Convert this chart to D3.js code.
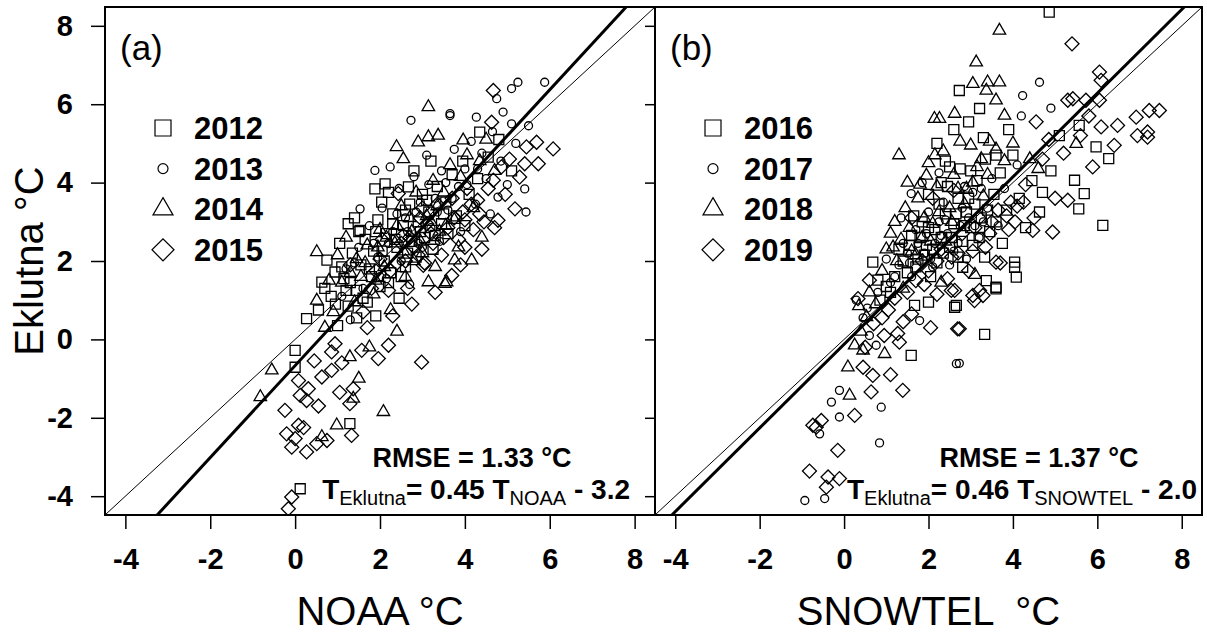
<!DOCTYPE html>
<html>
<head>
<meta charset="utf-8">
<script src="https://cdn.jsdelivr.net/npm/d3@7"></script>
<style>
  body { margin: 0; background: #fff; }
  svg { display: block; font-family: "Liberation Sans", Arial, sans-serif; }
  text { white-space: pre; }
</style>
</head>
<body>
<svg width="1207" height="633"></svg>
<script>
const svg = d3.select("svg");

const width = 1207;
const height = 633;

// axis values
const axisDomain = [-4.48, 8.48];
const tickValues = [-4, -2, 0, 2, 4, 6, 8];

const yearsA = ["2012", "2013", "2014", "2015"];
const yearsB = ["2016", "2017", "2018", "2019"];
const shapes = ["square", "circle", "triangle", "diamond"];

// panel (a): Eklutna vs NOAA
const a2012 = [[0.63,1.46],[0.27,0.53],[0.0,-0.28],[0.0,-0.71],[1.29,-2.15],[0.12,-3.81],[1.88,3.84],[2.12,3.97],[2.67,3.89],[2.04,3.5],[1.25,2.95],[1.53,2.78],[0.75,2.02],[0.94,1.72],[4.35,5.29],
  [0.85,1.1],[1.05,2.45],[1.15,1.55],[1.25,0.85],[1.35,2.2],[1.45,1.25],[1.55,1.9],[1.65,2.55],[1.7,0.95],[1.8,1.6],[1.85,2.25],[1.95,3.05],[2.0,1.35],[2.1,2.0],[2.15,2.7],[2.25,1.7],[2.3,3.2],[2.4,2.35],[2.45,1.05],[2.55,2.9],[2.6,1.85],[2.7,3.45],[2.75,2.5],[2.85,2.1],[2.9,3.0],[3.0,3.7],[3.05,2.6],[3.15,3.25],[3.25,2.3],[3.35,3.9],[3.45,2.95],[3.55,3.5],[3.7,4.2],[3.8,3.15],[3.95,4.55],[4.1,3.7],[4.3,4.1],[4.55,4.65],[1.0,0.35],[1.9,0.6],[2.2,3.75],[2.8,4.3],[3.2,4.55],[0.55,0.75],[1.4,3.1],[3.6,2.7],[4.0,2.9],[4.8,5.1],[5.1,4.3],[2.35,2.55],
  [1.1,1.85],[1.3,1.45],[1.5,2.75],[1.6,1.05],[1.75,1.8],[1.9,2.75],[2.05,2.25],[2.2,1.45],[2.3,2.95],[2.5,1.6],[2.6,3.3],[2.65,2.2],[2.95,2.75],[3.1,3.55],[3.3,2.65],[3.5,3.2],[0.95,0.9],[1.2,1.25],[0.7,1.3],[1.45,0.55]];
const a2013 = [[2.73,5.59],[3.65,5.76],[1.88,4.31],[2.24,4.4],[1.53,3.33],[4.75,6.14],[5.1,6.4],[5.25,6.56],[5.88,6.56],[3.65,5.71],[4.27,5.67],[5.1,5.5],[5.41,3.84],[4.78,3.63],[5.44,3.25],
  [1.2,1.8],[1.5,2.35],[1.75,2.9],[1.95,2.1],[2.05,3.35],[2.3,2.75],[2.45,3.85],[2.6,3.1],[2.8,4.15],[2.95,3.5],[3.1,4.7],[3.2,2.85],[3.3,3.6],[3.45,4.3],[3.6,3.3],[3.75,4.85],[3.85,3.9],[4.0,4.35],[4.15,5.05],[4.25,3.45],[4.4,4.75],[4.5,4.1],[4.65,5.3],[4.85,4.55],[5.0,3.95],[5.2,5.0],[2.5,2.0],[2.9,2.45],[1.6,1.3],[1.3,0.5],[3.4,2.5],[3.9,2.75],[4.6,3.2],[2.15,1.55],[2.7,1.4],[4.9,5.8],[5.5,5.45],
  [1.4,1.95],[1.85,2.45],[2.2,2.45],[2.4,3.2],[2.65,2.75],[2.85,3.25],[3.0,2.35],[3.15,3.95],[3.35,3.25],[3.55,4.0],[3.7,3.6],[4.05,3.95],[4.3,4.35],[2.0,1.6],[1.1,1.1]];
const a2014 = [[3.14,5.93],[2.39,4.91],[2.9,5.03],[3.37,5.2],[3.14,5.16],[0.51,2.23],[3.14,1.46],[3.57,1.46],[0.51,0.99],[-0.55,-0.79],[0.63,-2.49],[0.98,-2.19],[2.08,-1.85],[1.29,-0.45],[1.37,-1.51],[3.76,2.02],[4.16,2.02],[3.96,5.08],[3.53,1.42],[-0.82,-1.47],[1.5,-1.0],
  [0.9,0.7],[1.1,1.45],[1.2,2.6],[1.4,0.95],[1.55,1.6],[1.7,2.4],[1.85,1.15],[2.0,2.8],[2.1,1.85],[2.25,0.75],[2.35,2.45],[2.5,3.4],[2.6,1.6],[2.75,2.75],[2.85,3.75],[3.0,2.2],[3.1,3.15],[3.25,4.05],[3.4,2.75],[3.5,3.75],[3.65,4.45],[3.75,3.05],[3.9,4.15],[4.05,4.7],[4.2,3.35],[4.35,4.55],[4.5,5.1],[4.7,4.3],[2.55,4.6],[1.0,2.15],[0.7,0.3],[1.75,-0.2],[2.4,0.2],[3.3,1.85],[3.85,2.35],[4.4,2.6],
  [1.3,1.7],[1.65,1.95],[1.95,2.35],[2.15,2.6],[2.4,2.9],[2.55,2.25],[2.7,3.1],[2.95,2.5],[3.2,3.0],[3.35,3.4],[3.55,2.9],[1.45,2.05],[1.9,1.5],[2.8,2.0],[0.8,1.5]];
const a2015 = [[0.08,-1.05],[0.31,-1.26],[0.12,-1.43],[0.27,-1.56],[-0.24,-1.81],[0.08,-2.19],[-0.2,-2.41],[0.0,-2.53],[-0.08,-2.75],[0.27,-2.87],[0.51,-2.66],[0.75,-2.58],[1.33,-2.45],[2.98,-0.58],[0.63,-0.96],[0.86,-0.79],[1.37,-1.26],[1.29,-1.64],[0.94,-0.11],[0.86,-0.32],[1.57,-0.28],[2.2,-0.15],[1.96,-0.49],[-0.08,-4.02],[-0.16,-4.32],[0.45,-0.55],[1.1,-0.6],[0.55,-1.7],[0.2,-2.25],[1.05,-1.35],
  [2.43,3.72],[3.02,1.89],[4.67,6.35],[4.63,5.54],[5.45,4.91],[5.69,5.03],[6.08,4.86],[5.41,4.48],[5.73,4.48],[5.29,4.14],[5.18,3.33],[4.67,4.06],[4.86,4.4],[4.78,3.04],[4.0,2.35],[3.69,1.63],
  [1.3,1.9],[1.6,0.7],[1.9,1.75],[2.05,2.55],[2.2,1.25],[2.4,1.95],[2.55,2.65],[2.65,1.3],[2.8,2.35],[2.95,3.1],[3.05,1.95],[3.2,2.7],[3.35,3.45],[3.45,2.15],[3.6,2.85],[3.7,3.6],[3.85,2.55],[3.95,3.25],[4.05,3.85],[4.2,2.8],[4.3,3.55],[4.45,3.0],[4.55,3.85],[4.7,2.85],[4.95,3.7],[5.05,4.6],[1.7,0.3],[2.3,0.6],[2.75,0.9],[3.3,1.2],[3.9,1.9],[4.4,2.3],
  [2.25,1.75],[2.5,2.45],[2.7,2.6],[2.9,2.15],[3.1,2.95],[3.25,2.45],[3.5,2.6],[3.75,3.1],[4.0,3.05],[4.15,3.45],[4.35,3.2],[3.0,3.35],[2.6,2.0],[1.8,1.3],[2.0,2.05]];

// panel (b): Eklutna vs SNOWTEL
const b2016 = [[4.86,8.35],[2.73,6.35],[3.21,5.89],[5.57,5.46],[5.97,4.91],[6.27,4.61],[5.46,4.06],[5.69,3.72],[5.56,3.33],[6.13,2.91],[4.63,3.25],[4.04,1.97],[4.04,1.84],[4.08,1.59],[3.6,1.33],[3.37,1.5],[2.66,0.87],[2.81,1.84],[3.33,2.1],[3.6,1.29],[3.33,0.13],[0.68,1.97],[0.8,1.51],[1.67,0.87],[2.62,0.82],[1.59,-0.41],
  [1.3,2.3],[1.5,1.7],[1.6,2.65],[1.75,2.05],[1.85,3.0],[1.95,2.4],[2.05,1.6],[2.15,2.8],[2.25,3.45],[2.35,2.2],[2.45,3.9],[2.55,2.6],[2.65,3.2],[2.75,4.35],[2.85,2.9],[2.95,3.6],[3.05,2.4],[3.15,4.05],[3.25,3.1],[3.35,4.6],[3.45,2.75],[3.55,3.7],[3.7,4.25],[3.85,3.3],[4.0,4.7],[4.15,3.6],[4.3,2.85],[4.45,4.05],[4.7,3.75],[4.9,4.3],[5.1,5.2],[2.2,5.0],[2.6,5.35],[2.95,5.55],[3.3,5.15],[3.9,5.35],[1.1,1.2],[2.0,0.95],[2.4,4.55],[3.75,2.45],
  [1.4,2.0],[1.55,2.4],[1.7,1.85],[1.8,2.6],[1.9,2.15],[2.0,2.85],[2.1,2.3],[2.2,1.95],[2.3,2.6],[2.4,3.2],[2.5,2.35],[2.6,2.95],[2.7,3.6],[2.8,2.5],[2.9,3.25],[3.0,2.85],[3.1,3.45],[3.2,2.6],[3.4,3.3],[3.6,3.0],[1.2,1.6],[1.0,1.35],[0.85,1.0],[2.3,4.0],[2.5,4.4],[3.0,4.3],[3.6,4.7],[2.0,3.7],[2.7,2.1],[1.65,3.15]];
const b2017 = [[4.63,6.56],[4.23,6.22],[1.59,3.72],[1.79,0.48],[2.73,-0.61],[2.66,-0.62],[0.76,-0.15],[-0.11,-1.3],[-0.3,-1.6],[-0.11,-1.98],[0.88,-1.73],[-0.58,-2.41],[0.84,-2.64],[-0.46,-4.06],[-0.93,-4.11],[0.29,1.0],
  [1.0,2.05],[1.2,1.6],[1.4,2.45],[1.55,1.95],[1.7,2.8],[1.9,2.2],[2.0,3.25],[2.1,1.85],[2.3,2.65],[2.4,3.05],[2.5,1.9],[2.7,2.45],[2.8,3.35],[2.9,2.05],[3.05,3.75],[3.2,2.6],[3.4,3.35],[3.5,4.1],[3.65,2.9],[3.8,3.85],[4.1,4.45],[1.35,3.1],[1.85,4.0],[2.25,4.25],[4.2,5.7],[4.9,5.9],[0.45,0.55],[0.6,0.1],
  [1.5,2.2],[1.75,2.45],[1.95,2.7],[2.15,2.45],[2.25,3.0],[2.45,2.7],[2.6,2.25],[2.75,2.9],[2.95,3.1],[3.1,2.9],[3.3,3.0],[1.3,1.9],[1.1,1.45],[0.8,1.2],[0.55,0.8],[2.35,3.5],[2.85,3.9],[3.25,3.85],[1.6,1.6],[2.05,2.05]];
const b2018 = [[3.68,7.88],[3.13,7.07],[3.05,6.52],[3.4,6.56],[3.68,6.56],[3.6,6.1],[3.37,6.35],[2.26,5.63],[2.62,5.76],[3.8,5.71],[5.5,4.99],[1.16,2.35],[0.53,0.57],[0.25,-0.15],[0.45,-0.28],[0.96,-0.37],[0.09,-0.71],[0.13,-1.43],[1.95,4.18],[2.14,5.63],
  [0.9,1.75],[1.1,2.7],[1.25,2.0],[1.45,3.35],[1.6,2.25],[1.75,3.6],[1.85,2.6],[2.0,4.5],[2.1,2.95],[2.2,3.9],[2.35,4.8],[2.5,3.35],[2.6,4.2],[2.75,5.05],[2.9,3.85],[3.0,4.95],[3.15,4.4],[3.3,3.65],[3.45,5.05],[3.6,4.85],[3.8,4.55],[4.0,5.0],[4.4,4.6],[4.6,4.35],[1.4,1.3],[2.3,1.45],[3.1,1.65],[0.75,0.9],[1.5,4.0],[1.3,4.7],
  [1.35,2.55],[1.55,2.85],[1.7,2.15],[1.9,3.1],[2.05,2.5],[2.25,3.25],[2.4,2.5],[2.55,3.0],[2.7,3.85],[2.85,3.45],[3.05,4.0],[3.25,4.6],[3.4,4.2],[1.2,3.0],[1.0,2.3],[0.6,1.2],[0.4,0.2],[0.35,0.85],[2.15,4.7],[1.8,3.95]];
const b2019 = [[5.4,7.54],[6.05,6.82],[6.09,6.61],[5.3,6.1],[5.42,6.14],[5.73,6.1],[6.05,6.1],[6.09,5.42],[6.48,5.46],[6.92,5.67],[7.23,5.84],[7.47,5.84],[6.95,5.2],[7.19,5.29],[7.19,5.16],[6.4,4.95],[5.89,4.4],[5.3,3.55],[4.94,2.74],[4.47,2.78],[3.21,1.25],[3.05,1.12],[2.54,1.25],[3.6,1.97],[3.09,0.99],[3.29,1.12],[2.73,0.27],[0.6,1.51],[0.33,1.04],[1.27,0.15],[2.62,1.25],[2.69,0.27],[1.31,-0.07],[0.45,-0.71],[0.68,-0.92],[1.39,-1.3],[0.64,-1.34],[0.25,-1.94],[-0.54,-2.07],[-0.66,-2.24],[-0.74,-2.19],[-0.15,-2.83],[-0.82,-3.36],[-0.38,-3.51],[-0.11,-3.55],[-0.42,-3.77],
  [1.9,1.4],[2.2,2.0],[2.45,1.55],[2.7,2.2],[2.95,1.75],[3.1,2.85],[3.35,2.35],[3.5,3.0],[3.7,1.95],[3.9,2.8],[4.1,3.4],[4.3,3.95],[4.5,3.1],[4.7,4.6],[4.85,5.1],[5.0,3.6],[5.2,4.75],[5.6,5.2],[1.4,0.45],[0.9,0.55],[1.1,-0.9],[2.05,0.3],[1.6,3.1],[2.1,3.6],[2.6,3.8],[1.2,1.05],[3.95,3.5],[4.55,5.55],[5.8,5.7],
  [1.7,1.5],[1.85,2.0],[2.0,1.75],[2.3,2.3],[2.55,2.1],[2.8,2.7],[3.05,2.25],[3.2,3.1],[3.45,2.7],[3.65,3.3],[3.85,3.15],[4.05,3.0],[4.25,3.5],[1.5,1.2],[1.05,0.75],[0.7,0.4],[0.5,-0.2],[0.95,0.1],[1.6,0.65],[2.2,1.15]];

// 1:1 line and fitted line (endpoints in data units)
const oneToOne = [[-4.48, -4.48], [8.48, 8.48]];
const fitLineA = [[-3.25, -4.48], [7.80, 8.48]];
const fitLineB = [[-4.08, -4.48], [8.06, 8.48]];

const panels = [
    { id: "a", left: 105, right: 655, label: "(a)", years: yearsA, series: [a2012, a2013, a2014, a2015],
      fit: fitLineA, xTitle: "NOAA \u00B0C", rmse: "RMSE = 1.33 \u00B0C", sub2: "NOAA", coef: "= 0.45 T", tail: " - 3.2",
      eqRight: 630, yLabels: true, yTick: 14 },
    { id: "b", left: 655, right: 1202, label: "(b)", years: yearsB, series: [b2016, b2017, b2018, b2019],
      fit: fitLineB, xTitle: "SNOWTEL  \u00B0C", rmse: "RMSE = 1.37 \u00B0C", sub2: "SNOWTEL", coef: "= 0.46 T", tail: " - 2.0",
      eqRight: 1197, yLabels: false, yTick: 10 }
];

const plotTop = 7, plotBottom = 515;

const yScale = d3.scaleLinear().domain(axisDomain).range([plotBottom, plotTop]);

function markerPath(shape, s) {
    if (shape === "square") return d3.symbol(d3.symbolSquare, s * s)();
    if (shape === "circle") return d3.symbol(d3.symbolCircle, Math.PI * s * s / 4)();
    if (shape === "triangle") return d3.symbol(d3.symbolTriangle, Math.sqrt(3) / 4 * s * s)();
    return d3.symbol(d3.symbolSquare, s * s / 2)();
}
const dataSize = { square: 10, circle: 8, triangle: 12.5, diamond: 14 };
const legendSize = { square: 16, circle: 10, triangle: 20, diamond: 22 };

panels.forEach(function(p) {
    const xScale = d3.scaleLinear().domain(axisDomain).range([p.left, p.right]);

    svg.append("clipPath").attr("id", "clip-" + p.id)
        .append("rect")
        .attr("x", p.left).attr("y", plotTop)
        .attr("width", p.right - p.left).attr("height", plotBottom - plotTop);

    const plot = svg.append("g").attr("clip-path", `url(#clip-${p.id})`);

    // points
    p.series.forEach(function(pts, i) {
        const shape = shapes[i];
        plot.selectAll(".pt" + i)
            .data(pts)
            .enter()
            .append("path")
            .attr("d", markerPath(shape, dataSize[shape]))
            .attr("transform", d => `translate(${xScale(d[0])},${yScale(d[1])})` + (shape === "diamond" ? " rotate(45)" : ""))
            .attr("fill", "none")
            .attr("stroke", "#000")
            .attr("stroke-width", 1.3);
    });

    const line = d3.line().x(d => xScale(d[0])).y(d => yScale(d[1]));

    plot.append("path").attr("d", line(oneToOne))
        .attr("stroke", "#000").attr("stroke-width", 1).attr("fill", "none");
    plot.append("path").attr("d", line(p.fit))
        .attr("stroke", "#000").attr("stroke-width", 3).attr("fill", "none");

    // frame
    svg.append("rect")
        .attr("x", p.left).attr("y", plotTop)
        .attr("width", p.right - p.left).attr("height", plotBottom - plotTop)
        .attr("fill", "none").attr("stroke", "#000").attr("stroke-width", 2);

    // x axis
    const xAxis = svg.append("g")
        .attr("transform", `translate(0,${plotBottom})`)
        .call(d3.axisBottom(xScale).tickValues(tickValues).tickFormat(d => String(d)).tickSize(14).tickPadding(19));
    xAxis.select(".domain").remove();
    xAxis.selectAll("line").attr("stroke", "#000").attr("stroke-width", 1.5);
    xAxis.selectAll("text")
        .attr("fill", "#000")
        .style("font-size", "29px")
        .style("font-weight", "bold")
        .style("font-family", "'Liberation Sans', Arial, sans-serif");

    // y axis
    const yAxis = svg.append("g")
        .attr("transform", `translate(${p.left},0)`)
        .call(d3.axisLeft(yScale).tickValues(tickValues).tickFormat(d => String(d)).tickSize(p.yTick).tickPadding(18));
    yAxis.select(".domain").remove();
    yAxis.selectAll("line").attr("stroke", "#000").attr("stroke-width", 1.5);
    if (p.yLabels) {
        yAxis.selectAll("text")
            .attr("fill", "#000")
            .style("font-size", "29px")
            .style("font-weight", "bold")
            .style("font-family", "'Liberation Sans', Arial, sans-serif");
    } else {
        yAxis.selectAll("text").remove();
    }

    // panel label
    svg.append("text")
        .attr("x", p.left + 15)
        .attr("y", 60)
        .style("font-size", "35px")
        .text(p.label);

    // legend
    const legX = p.left + 58;
    p.years.forEach(function(yr, i) {
        const shape = shapes[i];
        const cy = 128 + i * 40.6;
        svg.append("path")
            .attr("d", markerPath(shape, legendSize[shape]))
            .attr("transform", `translate(${legX},${cy})` + (shape === "diamond" ? " rotate(45)" : ""))
            .attr("fill", "none")
            .attr("stroke", "#000")
            .attr("stroke-width", 1.2);
        svg.append("text")
            .attr("x", legX + 31)
            .attr("y", cy + 11)
            .style("font-size", "31px")
            .style("font-weight", "bold")
            .text(yr);
    });

    // RMSE and equation
    svg.append("text")
        .attr("x", p.eqRight - 158)
        .attr("y", 467)
        .attr("text-anchor", "middle")
        .style("font-size", "27px")
        .style("font-weight", "bold")
        .text(p.rmse);

    const eq = svg.append("text")
        .attr("x", p.eqRight)
        .attr("y", 499)
        .attr("text-anchor", "end")
        .style("font-size", "28px")
        .style("font-weight", "bold");
    eq.append("tspan").text("T");
    eq.append("tspan").attr("dy", 6).style("font-size", "20px").style("font-weight", "normal").text("Eklutna");
    eq.append("tspan").attr("dy", -6).text(p.coef);
    eq.append("tspan").attr("dy", 6).style("font-size", "20px").style("font-weight", "normal").text(p.sub2);
    eq.append("tspan").attr("dy", -6).text(p.tail);

    // x title
    svg.append("text")
        .attr("x", (p.left + p.right) / 2)
        .attr("y", 625)
        .attr("text-anchor", "middle")
        .style("font-size", "40px")
        .text(p.xTitle);
});

// y title
svg.append("text")
    .attr("transform", "rotate(-90)")
    .attr("x", -(plotTop + plotBottom) / 2)
    .attr("y", 43)
    .attr("text-anchor", "middle")
    .style("font-size", "40px")
    .text("Eklutna \u00B0C");
</script>
</body>
</html>
